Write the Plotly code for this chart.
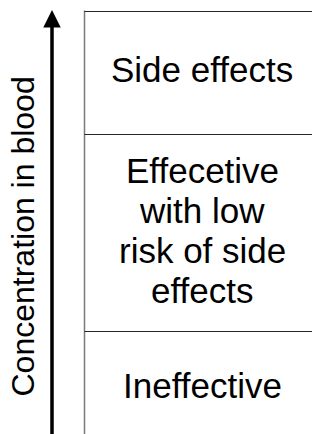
import plotly.graph_objects as go

# Zones of blood concentration (arbitrary concentration units, bottom -> top)
zone_names = ["Ineffective", "Effecetive<br>with low<br>risk of side<br>effects", "Side effects"]
zone_edges = [0, 103, 300, 423]
axis_title = "Concentration in blood"

W, H = 312, 434
FONT = "Liberation Sans, Arial, sans-serif"
FS = 35
BOX_X0, BOX_X1 = 84.5, 320
TEXT_X = 202
ARROW_X = 52
LABEL_X = 22
LINE_GAP = 40                    # px between text lines
label_shift = [-3, 2, 3]         # vertical nudge of each zone label (px, up = +)

fig = go.Figure()

shapes = []
shapes.append(dict(type="line", xref="x", yref="y", x0=BOX_X0, x1=BOX_X0,
                   y0=zone_edges[0] - 10, y1=zone_edges[-1] + 0.5,
                   line=dict(color="#7a7a7a", width=1.5)))
for e in zone_edges[1:]:
    shapes.append(dict(type="line", xref="x", yref="y", x0=BOX_X0, x1=BOX_X1 + 10,
                       y0=e - 0.5, y1=e - 0.5, line=dict(color="#262626", width=1)))

annotations = []
for name, lo, hi, sh in zip(zone_names, zone_edges[:-1], zone_edges[1:], label_shift):
    lines = name.split("<br>")
    mid = (lo + hi) / 2 + sh
    n = len(lines)
    for i, ln in enumerate(lines):
        yy = mid + ((n - 1) / 2 - i) * LINE_GAP
        annotations.append(dict(x=TEXT_X, y=yy, xref="x", yref="y",
                                text=ln, showarrow=False, align="center",
                                xanchor="center", yanchor="middle",
                                font=dict(family=FONT, size=FS, color="black")))

# axis arrow
annotations.append(dict(x=ARROW_X, y=zone_edges[-1] + 1, ax=ARROW_X, ay=zone_edges[0] - 10,
                        xref="x", yref="y", axref="x", ayref="y", text="",
                        showarrow=True, arrowhead=2, arrowsize=1.0, arrowwidth=3.5,
                        arrowcolor="black", standoff=0, startstandoff=0))

# axis title
annotations.append(dict(x=LABEL_X, y=(zone_edges[0] + zone_edges[-1]) / 2 - 14, xref="x", yref="y",
                        text=axis_title, textangle=-90, showarrow=False,
                        xanchor="center", yanchor="middle",
                        font=dict(family=FONT, size=32, color="black")))

fig.update_layout(
    width=W, height=H,
    margin=dict(l=0, r=0, t=0, b=0),
    paper_bgcolor="white", plot_bgcolor="white",
    xaxis=dict(range=[0, W], visible=False, fixedrange=True),
    yaxis=dict(range=[0, H], visible=False, fixedrange=True),
    shapes=shapes, annotations=annotations, showlegend=False,
)

fig.write_html("out.html", config={"displayModeBar": False},
               post_script="document.body.style.margin='0';document.body.style.overflow='hidden';")
